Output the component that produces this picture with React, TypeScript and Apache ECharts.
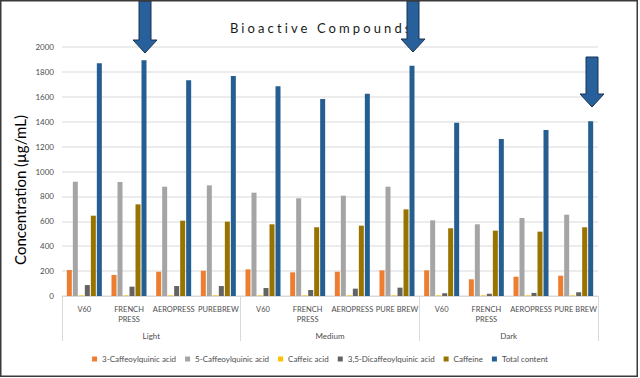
import React, { useEffect, useRef } from 'react';
import * as echarts from 'echarts';

const roastLevels = ['Light', 'Medium', 'Dark'];
const methods = [
  'V60', 'FRENCH\nPRESS', 'AEROPRESS', 'PUREBREW',
  'V60', 'FRENCH\nPRESS', 'AEROPRESS', 'PURE BREW',
  'V60', 'FRENCH\nPRESS', 'AEROPRESS', 'PURE BREW',
];
const seriesNames = [
  '3-Caffeoylquinic acid',
  '5-Caffeoylquinic acid',
  'Caffeic acid',
  '3,5-Dicaffeoylquinic acid',
  'Caffeine',
  'Total content',
];
const cqa3 = [209, 169, 195, 203, 214, 190, 195, 206, 206, 134, 155, 163];
const cqa5 = [918, 916, 878, 889, 830, 785, 806, 878, 608, 576, 627, 653];
const caffeicAcid = [5, 5, 5, 5, 5, 5, 5, 5, 5, 5, 5, 5];
const dicqa35 = [88, 75, 80, 80, 64, 48, 59, 67, 22, 18, 25, 30];
const caffeine = [645, 736, 605, 597, 576, 552, 565, 696, 544, 525, 517, 552];
const totalContent = [1869, 1893, 1732, 1767, 1684, 1582, 1625, 1850, 1392, 1261, 1333, 1403];

const seriesValues = [cqa3, cqa5, caffeicAcid, dicqa35, caffeine, totalContent];
const colors = ['#ED7D31', '#A5A5A5', '#FFC000', '#636363', '#997300', '#255E91'];

const FONT = 'Lato, "Noto Sans", sans-serif';

function arrow(cx: number, top: number, headTop: number, tip: number) {
  const sw = 6;
  const hw = 12;
  return {
    type: 'polygon',
    z: 100,
    shape: {
      points: [
        [cx - sw, top], [cx + sw, top], [cx + sw, headTop], [cx + hw, headTop],
        [cx, tip], [cx - hw, headTop], [cx - sw, headTop],
      ],
    },
    style: { fill: '#27609A', stroke: '#1B3350', lineWidth: 1 },
  };
}

export default function App() {
  const ref = useRef<HTMLDivElement>(null);
  useEffect(() => {
    if (!ref.current) return;
    const chart = echarts.init(ref.current, null, { renderer: 'svg' });
    chart.setOption({
      animation: false,
      backgroundColor: '#fff',
      title: {
        text: 'Bioactive Compounds',
        left: 225,
        top: 16,
        textStyle: { fontFamily: 'Lato, TitleSpacing', fontSize: 13, fontWeight: 'normal', color: '#1a1a1a' },
      },
      legend: {
        top: 350,
        left: 'center',
        icon: 'rect',
        itemWidth: 5,
        itemHeight: 5,
        itemGap: 9,
        data: seriesNames,
        textStyle: { fontFamily: FONT, fontSize: 8, color: '#4d4d4d' },
      },
      grid: { left: 62, right: 42, top: 47, bottom: 82, containLabel: false },
      xAxis: [
        {
          type: 'category',
          data: methods,
          position: 'bottom',
          offset: 0,
          axisLine: { lineStyle: { color: '#d9d9d9' } },
          axisTick: { show: false },
          axisLabel: {
            interval: 0,
            margin: 8,
            fontFamily: FONT,
            fontSize: 7.5,
            lineHeight: 10,
            color: '#4d4d4d',
          },
        },
        {
          type: 'category',
          data: roastLevels,
          position: 'bottom',
          offset: 0,
          axisLine: { show: false },
          axisTick: { show: true, length: 45, lineStyle: { color: '#d9d9d9' } },
          axisLabel: { margin: 36, fontFamily: FONT, fontSize: 8, color: '#4d4d4d' },
        },
      ],
      yAxis: {
        type: 'value',
        min: 0,
        max: 2000,
        interval: 200,
        axisLine: { show: false },
        axisTick: { show: false },
        axisLabel: {
          margin: 8,
          fontFamily: FONT,
          fontSize: 8,
          color: '#4d4d4d',
          formatter: (v: number) => String(v),
        },
        splitLine: { lineStyle: { color: '#e6e6e6', width: 1.5 } },
      },
      series: seriesNames.map((name, i) => ({
        name,
        type: 'bar',
        xAxisIndex: 0,
        data: seriesValues[i],
        barWidth: 5,
        barGap: '20%',
        itemStyle: { color: colors[i] },
      })),
      graphic: [
        {
          type: 'text',
          x: 20,
          y: 190,
          rotation: Math.PI / 2,
          style: {
            text: 'Concentration (µg/mL)',
            fontFamily: FONT,
            fontSize: 15,
            fill: '#000',
            align: 'center',
            verticalAlign: 'middle',
          },
        },
        {
          type: 'rect',
          z: 120,
          shape: { x: 0.75, y: 0.75, width: 636.5, height: 375.5 },
          style: { fill: 'none', stroke: '#3a3a3a', lineWidth: 1.5 },
        },
        arrow(145, 1, 40, 53),
        arrow(413, 1, 39, 52),
        arrow(592, 57, 94, 107),
      ],
    });
    return () => chart.dispose();
  }, []);
  return (
    <>
      <style>{'text[style*="TitleSpacing"]{letter-spacing:3.1px;}'}</style>
      <div
        ref={ref}
        style={{ position: 'fixed', left: 0, top: 0, width: 640, height: 378 }}
      />
    </>
  );
}
